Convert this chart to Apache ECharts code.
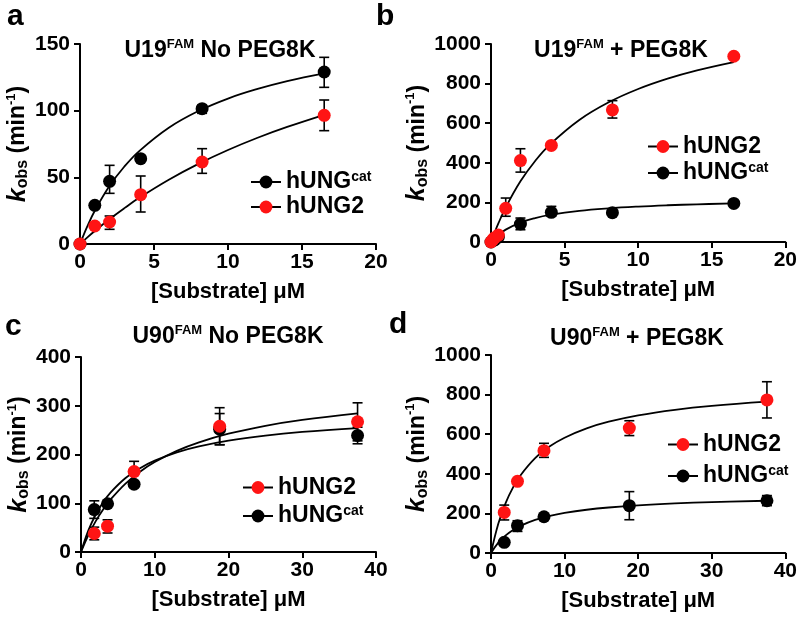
<!DOCTYPE html>
<html><head><meta charset="utf-8">
<script src="https://cdn.jsdelivr.net/npm/echarts@6/dist/echarts.min.js"></script>
<style>html,body{margin:0;padding:0;background:#fff}#c{width:800px;height:622px}</style>
</head><body><div id="c"></div><script>
// ---------- DATA ----------
// Panel a: U19FAM No PEG8K
const a_cat_x  = [0, 1, 2, 4.1, 8.25, 16.5];
const a_cat_y  = [0, 29, 47, 64, 101.5, 129];
const a_cat_lo = [null, null, 38, null, 98, 117.5];
const a_cat_hi = [null, null, 59, null, 104, 140];
const a_u2_x   = [0, 1, 2, 4.1, 8.25, 16.5];
const a_u2_y   = [0, 13.5, 16.5, 37, 61.5, 96.5];
const a_u2_lo  = [null, null, 11, 24, 53, 85];
const a_u2_hi  = [null, null, 21, 51, 71.5, 108];
const a_fit_x   = [0, 0.5, 1, 2, 3, 4, 6, 8, 10, 12, 14, 16.5];
const a_cat_fit = [0, 13.4, 24.9, 43.6, 58.1, 69.7, 87.2, 99.7, 109.1, 116.3, 122.2, 128.0];
const a_u2_fit  = [0, 5.0, 9.7, 18.7, 26.9, 34.6, 48.2, 60.1, 70.5, 79.7, 87.8, 96.9];

// Panel b: U19FAM + PEG8K
const b_u2_x   = [0, 0.125, 0.25, 0.5, 1, 2, 4.1, 8.25, 16.5];
const b_u2_y   = [0, 12, 22, 35, 170, 411, 488, 667, 938];
const b_u2_lo  = [null, null, null, null, 130, 353, null, 626, null];
const b_u2_hi  = [null, null, null, null, 222, 471, null, 714, null];
const b_cat_x  = [0, 0.25, 0.5, 2, 4.1, 8.25, 16.5];
const b_cat_y  = [0, 10, 25, 91, 150, 148, 195];
const b_cat_lo = [null, null, null, 62, 130, null, null];
const b_cat_hi = [null, null, null, 121, 180, null, null];
const b_fit_x   = [0, 0.25, 0.5, 1, 2, 3, 4, 6, 8, 10, 12, 14, 16.5];
const b_u2_fit  = [0, 48.8, 93.9, 174.6, 306.4, 409.3, 491.9, 616.3, 705.5, 772.6, 824.9, 866.8, 908.8];
const b_cat_fit = [0, 19.7, 36.3, 62.6, 98.0, 120.8, 136.7, 157.4, 170.3, 179.1, 185.5, 190.4, 195.0];

// Panel c: U90FAM No PEG8K
const c_u2_x   = [1.8, 3.6, 7.2, 18.8, 37.5];
const c_u2_y   = [38, 53, 165, 258, 267];
const c_u2_lo  = [25, 39, 145, 220, 228];
const c_u2_hi  = [51, 66, 186, 296, 306];
const c_cat_x  = [1.8, 3.6, 7.2, 18.8, 37.5];
const c_cat_y  = [87, 99, 139, 252, 239];
const c_cat_lo = [69, null, null, 220, 222];
const c_cat_hi = [105, null, null, 284, 256];
const c_fit_x   = [0, 1, 2, 3, 4, 6, 8, 10, 13, 16, 20, 25, 30, 37.5];
const c_cat_fit = [0, 44.4, 77.0, 102.1, 121.9, 151.3, 172.0, 187.4, 204.3, 216.5, 228.3, 238.7, 246.2, 254.2];
const c_u2_fit  = [0, 34.8, 63.3, 87.2, 107.5, 139.9, 164.8, 184.6, 207.5, 224.9, 242.6, 258.9, 271.0, 284.3];

// Panel d: U90FAM + PEG8K
const d_u2_x   = [1.8, 3.6, 7.2, 18.8, 37.5];
const d_u2_y   = [205, 362, 517, 631, 773];
const d_u2_lo  = [167, null, 483, 593, 682];
const d_u2_hi  = [242, null, 554, 668, 865];
const d_cat_x  = [1.8, 3.6, 7.2, 18.8, 37.5];
const d_cat_y  = [54, 138, 183, 239, 264];
const d_cat_lo = [null, 109, null, 168, 239];
const d_cat_hi = [null, 163, null, 310, 290];
const d_fit_x   = [0, 1, 2, 3, 4, 6, 8, 10, 13, 16, 20, 25, 30, 37.5];
const d_u2_fit  = [0, 148.6, 253.5, 331.5, 391.8, 478.9, 538.8, 582.4, 629.6, 663.1, 695.2, 723.2, 743.1, 764.2];
const d_cat_fit = [0, 52.3, 88.9, 116.0, 136.9, 166.9, 187.4, 202.3, 218.4, 229.8, 240.7, 250.2, 256.9, 264.0];

// ---------- STYLE / LAYOUT ----------
const FONT = 'Liberation Sans';
const RED = '#ff1414';
const BLK = '#000000';

const panels = [
  {grid:{left:80,top:44,width:296,height:200}, xmax:20, xint:5, ymax:150, yint:50, yGap:42,
   title:['U19',' No PEG8K'], tpos:[220,51], letter:'a', lpos:[7,2],
   legend:{left:245, top:165, gap:2, order:['hUNGcat','hUNG2']},
   pts:[['hUNGcat',a_cat_x,a_cat_y,a_cat_lo,a_cat_hi,BLK],['hUNG2',a_u2_x,a_u2_y,a_u2_lo,a_u2_hi,RED]],
   fits:[[a_fit_x,a_cat_fit],[a_fit_x,a_u2_fit]]},
  {grid:{left:491,top:44,width:295,height:198}, xmax:20, xint:5, ymax:1000, yint:200, yGap:58,
   title:['U19',' + PEG8K'], tpos:[621,51], letter:'b', lpos:[376,2],
   legend:{left:642, top:130, gap:3, order:['hUNG2','hUNGcat']},
   pts:[['hUNGcat',b_cat_x,b_cat_y,b_cat_lo,b_cat_hi,BLK],['hUNG2',b_u2_x,b_u2_y,b_u2_lo,b_u2_hi,RED]],
   fits:[[b_fit_x,b_u2_fit],[b_fit_x,b_cat_fit]]},
  {grid:{left:81,top:357,width:295,height:195}, xmax:40, xint:10, ymax:400, yint:100, yGap:48,
   title:['U90',' No PEG8K'], tpos:[228,337], letter:'c', lpos:[5,312],
   legend:{left:237, top:471, gap:5, order:['hUNG2','hUNGcat']},
   pts:[['hUNGcat',c_cat_x,c_cat_y,c_cat_lo,c_cat_hi,BLK],['hUNG2',c_u2_x,c_u2_y,c_u2_lo,c_u2_hi,RED]],
   fits:[[c_fit_x,c_u2_fit],[c_fit_x,c_cat_fit]]},
  {grid:{left:491,top:355,width:295,height:198}, xmax:40, xint:10, ymax:1000, yint:200, yGap:58,
   title:['U90',' + PEG8K'], tpos:[637,339], letter:'d', lpos:[389,310],
   legend:{left:662, top:428, gap:8, order:['hUNG2','hUNGcat']},
   pts:[['hUNGcat',d_cat_x,d_cat_y,d_cat_lo,d_cat_hi,BLK],['hUNG2',d_u2_x,d_u2_y,d_u2_lo,d_u2_hi,RED]],
   fits:[[d_fit_x,d_u2_fit],[d_fit_x,d_cat_fit]]}
];

const zip = (xs, ys) => xs.map((x, i) => [x, ys[i]]);
const txt = {fontFamily: FONT, fontWeight: 'bold', color: BLK};

const grids = [], xAxes = [], yAxes = [], series = [], legends = [], graphics = [];

panels.forEach((p, i) => {
  grids.push(Object.assign({containLabel:false}, p.grid));
  xAxes.push({
    gridIndex:i, type:'value', min:0, max:p.xmax, interval:p.xint,
    axisLine:{show:true, onZero:false, lineStyle:{color:BLK, width:2}},
    axisTick:{show:true, length:6, lineStyle:{color:BLK, width:2}},
    axisLabel:Object.assign({fontSize:21, margin:8, formatter:v => String(v)}, txt),
    splitLine:{show:false},
    name:'[Substrate] \u03bcM', nameLocation:'middle', nameGap:37,
    nameTextStyle:Object.assign({fontSize:22}, txt)
  });
  yAxes.push({
    gridIndex:i, type:'value', min:0, max:p.ymax, interval:p.yint,
    axisLine:{show:true, onZero:false, lineStyle:{color:BLK, width:2}},
    axisTick:{show:true, length:6, lineStyle:{color:BLK, width:2}},
    axisLabel:Object.assign({fontSize:21, margin:10, formatter:v => String(v)}, txt),
    splitLine:{show:false},
    name:'{k|k}{sub|obs}{m| (min}{sup|-1}{m|)}', nameLocation:'middle', nameGap:p.yGap,
    nameTextStyle:{rich:{
      k:Object.assign({fontSize:25, fontStyle:'italic', lineHeight:26}, txt),
      sub:Object.assign({fontSize:16, lineHeight:14, verticalAlign:'bottom'}, txt),
      m:Object.assign({fontSize:23, lineHeight:26}, txt),
      sup:Object.assign({fontSize:13, lineHeight:10, verticalAlign:'top'}, txt)
    }}
  });
  // fit curves
  p.fits.forEach((f, j) => {
    series.push({
      type:'line', name:'fit'+i+'_'+j, xAxisIndex:i, yAxisIndex:i,
      data:zip(f[0], f[1]), smooth:0.4, symbol:'none',
      lineStyle:{color:BLK, width:1.8}, z:3, silent:true, clip:false
    });
  });
  // error bars + points
  p.pts.forEach((s, j) => {
    const [name, xs, ys, lo, hi, col] = s;
    const err = [];
    xs.forEach((x, k) => { if (lo[k] != null) err.push([x, lo[k], hi[k]]); });
    series.push({
      type:'custom', name:'err'+i+'_'+j, xAxisIndex:i, yAxisIndex:i, z:2+j*2, silent:true, clip:false,
      data:err,
      renderItem:(params, api) => {
        const x = api.value(0), l = api.value(1), h = api.value(2);
        const p1 = api.coord([x, h]), p2 = api.coord([x, l]);
        const w = 5, st = {stroke:BLK, lineWidth:1.6};
        return {type:'group', children:[
          {type:'line', shape:{x1:p1[0], y1:p1[1], x2:p2[0], y2:p2[1]}, style:st},
          {type:'line', shape:{x1:p1[0]-w, y1:p1[1], x2:p1[0]+w, y2:p1[1]}, style:st},
          {type:'line', shape:{x1:p2[0]-w, y1:p2[1], x2:p2[0]+w, y2:p2[1]}, style:st}
        ]};
      }
    });
    series.push({
      type:'line', name:name, xAxisIndex:i, yAxisIndex:i, data:zip(xs, ys),
      symbol:'circle', symbolSize:13, showSymbol:true, clip:false,
      itemStyle:{color:col, borderWidth:0}, lineStyle:{opacity:0, color:BLK},
      z:5+j*2
    });
  });
  legends.push({
    orient:'vertical', left:p.legend.left, top:p.legend.top, itemGap:p.legend.gap,
    itemWidth:30, itemHeight:16, data:p.legend.order, selectedMode:false,
    lineStyle:{color:BLK, width:2, opacity:1},
    formatter:n => n === 'hUNGcat' ? '{m|hUNG}{s|cat}' : '{m|hUNG2}',
    textStyle:{rich:{
      m:Object.assign({fontSize:23, lineHeight:24}, txt),
      s:Object.assign({fontSize:14, lineHeight:8, verticalAlign:'top'}, txt)
    }}
  });
  graphics.push({
    type:'text', x:p.tpos[0], y:p.tpos[1],
    style:{text:'{m|'+p.title[0]+'}{s|FAM}{m|'+p.title[1]+'}', align:'center', verticalAlign:'middle',
      rich:{
        m:Object.assign({fontSize:23, lineHeight:26}, txt),
        s:Object.assign({fontSize:13, lineHeight:17, verticalAlign:'top'}, txt)
      }}
  });
  graphics.push({
    type:'text', x:p.lpos[0], y:p.lpos[1],
    style:{text:p.letter, fontSize:30, fontWeight:'bold', fontFamily:FONT, fill:BLK, verticalAlign:'top'}
  });
});

const chart = echarts.init(document.getElementById('c'), null, {renderer:'canvas'});
chart.setOption({
  animation:false, backgroundColor:'#fff',
  grid:grids, xAxis:xAxes, yAxis:yAxes, series:series, legend:legends, graphic:graphics
});
</script></body></html>
